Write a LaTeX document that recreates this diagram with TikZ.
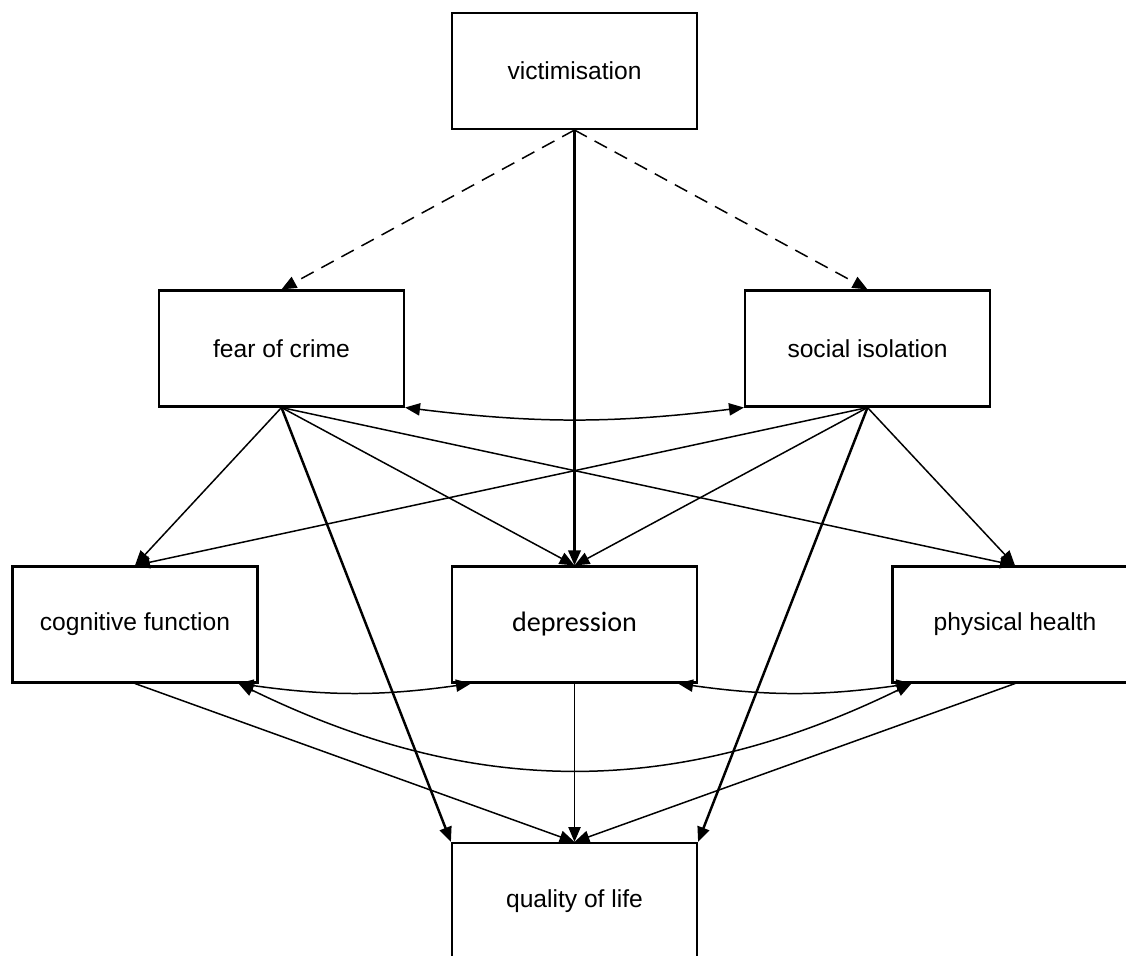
\documentclass[tikz,border=0pt]{standalone}
\usepackage{fontspec}
\setmainfont{Liberation Sans}
\newfontfamily\calibrifont{Carlito}
\usetikzlibrary{arrows.meta}

\begin{document}
\begin{tikzpicture}[
    box/.style={draw, line width=1.2pt, minimum width=4.9cm, minimum height=2.32cm,
                inner sep=0pt, font=\fontsize{14}{16}\selectfont},
    effect/.style={line width=0.85pt, -{Triangle[length=8.5pt, width=7pt]}},
    mainpath/.style={effect, line width=1.4pt},
    hyp/.style={effect, dash pattern=on 8pt off 5pt},
    corr/.style={line width=0.85pt,
                 {Triangle[length=8.5pt, width=7pt]}-{Triangle[length=8.5pt, width=7pt]}}
]

% frame of the picture (right and bottom boxes run off the edge)
\clip (0,0) rectangle (22.52,19.12);

% =========================================================
% BOXES
% =========================================================
\node[box] (victim) at (11.49,17.70) {victimisation};

\node[box] (fear)   at (5.63,12.15)  {fear of crime};
\node[box] (social) at (17.35,12.15) {social isolation};

\node[box] (cog)  at (2.70,6.63)  {cognitive function};
\node[box, font=\calibrifont\fontsize{16}{18}\selectfont] (dep) at (11.49,6.63) {depression};
\node[box] (phys) at (20.30,6.63) {physical health};

\node[box] (qol) at (11.49,1.10) {quality of life};

% =========================================================
% PATHS
% =========================================================
% from victimisation
\draw[hyp] (victim.south) -- (fear.north);
\draw[hyp] (victim.south) -- (social.north);
\draw[mainpath] (victim.south) -- (dep.north);

% fear of crime <-> social isolation
\draw[corr] (fear.south east) to[bend right=7] (social.south west);

% from fear of crime
\draw[effect] (fear.south) -- (cog.north);
\draw[effect] (fear.south) -- (dep.north);
\draw[effect] (fear.south) -- (phys.north);
\draw[mainpath] (fear.south) -- (qol.north west);

% from social isolation
\draw[effect] (social.south) -- (cog.north);
\draw[effect] (social.south) -- (dep.north);
\draw[effect] (social.south) -- (phys.north);
\draw[mainpath] (social.south) -- (qol.north east);

% into quality of life
\draw[effect] (cog.south) -- (qol.north);
\draw[effect] (dep.south) -- (qol.north);
\draw[effect] (phys.south) -- (qol.north);

% correlations between the three outcomes
\draw[corr] ([xshift=-0.4cm]cog.south east) to[bend right=8] ([xshift=0.4cm]dep.south west);
\draw[corr] ([xshift=-0.4cm]dep.south east) to[bend right=8] ([xshift=0.4cm]phys.south west);
\draw[corr] ([xshift=-0.4cm]cog.south east) to[bend right=26] ([xshift=0.4cm]phys.south west);

\end{tikzpicture}
\end{document}
